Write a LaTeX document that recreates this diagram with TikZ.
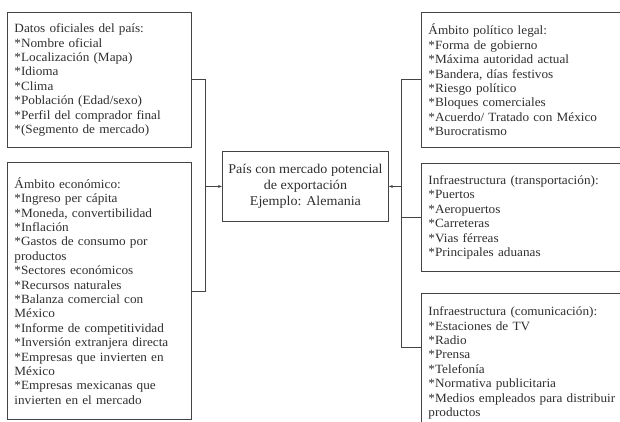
\documentclass[tikz,border=0pt]{standalone}
\usepackage{fontspec}
\setmainfont[FakeStretch=1.05]{Liberation Serif}
\usetikzlibrary{arrows.meta,calc}
\definecolor{ink}{HTML}{2E2E2E}
\definecolor{frame}{HTML}{444444}
\begin{document}
\begin{tikzpicture}[x=1pt,y=-1pt,
  infobox/.style={draw=frame, line width=0.9pt, anchor=north west,
    text=ink, align=left, inner xsep=7pt, inner ysep=0pt,
    font=\fontsize{12.6}{14.4}\selectfont},
  mainbox/.style={draw=frame, line width=0.9pt, anchor=north west,
    text=ink, align=center, inner sep=0pt,
    minimum width=166pt, minimum height=70pt,
    font=\fontsize{13.4}{16.2}\selectfont},
  link/.style={draw=frame, line width=0.9pt},
  arrowlink/.style={link, -{Stealth[length=4pt,width=3pt]}}]
\useasboundingbox (0,0) rectangle (620,422);
\clip (0,0) rectangle (620,422);

% left column
\node[infobox, text width=170pt, minimum width=180pt, minimum height=135pt] (datos) at (7,12)
  {Datos oficiales del país:\\
   {*}Nombre oficial\\
   {*}Localización (Mapa)\\
   {*}Idioma\\
   {*}Clima\\
   {*}Población (Edad/sexo)\\
   {*}Perfil del comprador final\\
   {*}(Segmento de mercado)};

\node[infobox, text width=170pt, minimum width=180pt, minimum height=257pt] (eco) at (7,162)
  {Ámbito económico:\\
   {*}Ingreso per cápita\\
   {*}Moneda, convertibilidad\\
   {*}Inflación\\
   {*}Gastos de consumo por\\
   productos\\
   {*}Sectores económicos\\
   {*}Recursos naturales\\
   {*}Balanza comercial con\\
   México\\
   {*}Informe de competitividad\\
   {*}Inversión extranjera directa\\
   {*}Empresas que invierten en\\
   México\\
   {*}Empresas mexicanas que\\
   invierten en el mercado};

% centre
\node[mainbox] (pais) at (222,151)
  {País con mercado potencial\\ de exportación\\ Ejemplo: Alemania};

% right column
\node[infobox, text width=220pt, minimum width=214pt, minimum height=135pt] (pol) at (421,12)
  {Ámbito político legal:\\
   {*}Forma de gobierno\\
   {*}Máxima autoridad actual\\
   {*}Bandera, días festivos\\
   {*}Riesgo político\\
   {*}Bloques comerciales\\
   {*}Acuerdo/ Tratado con México\\
   {*}Burocratismo};

\node[infobox, text width=220pt, minimum width=214pt, minimum height=108pt] (trans) at (421,163)
  {Infraestructura (transportación):\\
   {*}Puertos\\
   {*}Aeropuertos\\
   {*}Carreteras\\
   {*}Vias férreas\\
   {*}Principales aduanas};

\node[infobox, text width=220pt, minimum width=214pt, minimum height=139pt] (com) at (421,293)
  {Infraestructura (comunicación):\\
   {*}Estaciones de TV\\
   {*}Radio\\
   {*}Prensa\\
   {*}Telefonía\\
   {*}Normativa publicitaria\\
   {*}Medios empleados para distribuir\\
   productos};

% junction points
\coordinate (jl) at (205,0);
\coordinate (jr) at (401,0);
\coordinate (comin) at ($(com.north west)+(0,54)$);

% connectors
\draw[link] (datos.east) -- (datos.east -| jl) -- (eco.east -| jl) -- (eco.east);
\draw[arrowlink] (pais.west -| jl) -- (pais.west);
\draw[link] (pol.west) -- (pol.west -| jr) -- (comin -| jr) -- (comin);
\draw[link] (trans.west -| jr) -- (trans.west);
\draw[arrowlink] (pais.east -| jr) -- (pais.east);
\end{tikzpicture}
\end{document}
